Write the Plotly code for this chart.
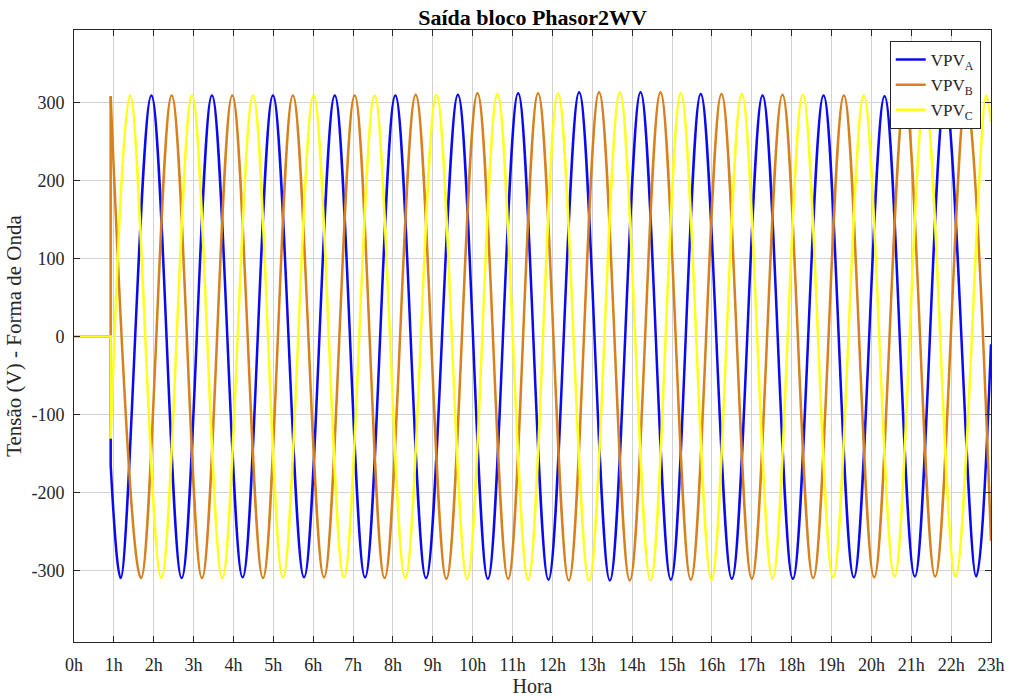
import plotly.graph_objects as go

# ---- data (hours, volts) ----
hour_ticks = list(range(0, 24))
hour_labels = [f"{h}h" for h in hour_ticks]
volt_ticks = [-300, -200, -100, 0, 100, 200, 300]
volt_labels = ["-300", "-200", "-100", "0", "100", "200", "300"]

# flat zero section before the signals start, then the switch-on jump
pre_t = [0.0, 0.92, 0.92]
pre_a = [0, 0, -165]
pre_b = [0, 0, 308]
pre_c = [0, 0, -131]

# series A (blue): start point, successive troughs/peaks, end point
t_a = [0.92, 1.17, 1.94, 2.70, 3.46, 4.23, 4.99, 5.77, 6.54, 7.30, 8.06, 8.83,
       9.63, 10.38, 11.14, 11.90, 12.67, 13.44, 14.21, 14.97, 15.72, 16.50,
       17.27, 18.03, 18.80, 19.56, 20.33, 21.09, 21.85, 22.63, 23.0]
v_a = [-165, -310, 309, -310, 309, -309, 309, -309, 309, -309, 309, -310,
       310, -311, 312, -312, 313, -313, 313, -312, 311, -311,
       309, -311, 309, -309, 308, -308, 308, -308, -10]

# series B (orange)
t_b = [0.92, 1.68, 2.45, 3.21, 3.97, 4.74, 5.49, 6.27, 7.04, 7.79, 8.57, 9.34,
       10.12, 10.89, 11.64, 12.41, 13.17, 13.94, 14.71, 15.47, 16.24, 17.00,
       17.77, 18.54, 19.31, 20.07, 20.84, 21.60, 22.37, 23.0]
v_b = [308, -310, 309, -310, 309, -310, 309, -309, 309, -310, 310, -311,
       312, -311, 312, -313, 313, -313, 313, -312, 311, -311,
       310, -310, 309, -309, 308, -308, 308, -262]

# series C (yellow)
t_c = [0.92, 1.41, 2.19, 2.96, 3.72, 4.49, 5.24, 6.01, 6.77, 7.54, 8.31, 9.09,
       9.86, 10.62, 11.39, 12.14, 12.92, 13.69, 14.46, 15.22, 15.99, 16.75,
       17.52, 18.28, 19.04, 19.81, 20.58, 21.34, 22.11, 22.88, 23.0]
v_c = [-131, 309, -310, 309, -310, 309, -309, 309, -309, 309, -310, 310,
       -311, 311, -312, 312, -313, 313, -313, 312, -312, 311,
       -311, 310, -309, 309, -308, 308, -308, 309, 275]

names = ["VPV<sub>A</sub>", "VPV<sub>B</sub>", "VPV<sub>C</sub>"]
colors = ["#0a0af0", "#d6801e", "#ffff1a"]

FONT = "Liberation Serif, Times New Roman, serif"

fig = go.Figure()
series = [(pre_a, t_a, v_a), (pre_b, t_b, v_b), (pre_c, t_c, v_c)]
for i, (pre, t, v) in enumerate(series):
    fig.add_trace(go.Scatter(x=pre_t, y=pre, mode="lines",
                             line=dict(color=colors[i], width=2.5),
                             legendgroup=str(i), showlegend=False,
                             hoverinfo="skip"))
    fig.add_trace(go.Scatter(x=t, y=v, mode="lines", name=names[i],
                             line=dict(color=colors[i], width=2.5,
                                       shape="spline", smoothing=1),
                             legendgroup=str(i)))

axis_common = dict(
    showline=True, linecolor="#262626", linewidth=1, mirror="ticks",
    ticks="inside", ticklen=6, tickcolor="#262626",
    showgrid=True, gridcolor="#d2d2d2", gridwidth=1,
    zeroline=False,
    tickfont=dict(family=FONT, size=18, color="#262626"),
)

fig.update_xaxes(range=[0, 23], tickvals=hour_ticks, ticktext=hour_labels,
                 title=dict(text="Hora", font=dict(family=FONT, size=20, color="#262626"),
                            standoff=4),
                 ticklabelstandoff=6, **axis_common)
fig.update_yaxes(range=[-392, 393], tickvals=volt_ticks, ticktext=volt_labels,
                 title=dict(text="Tensão (V) - Forma de Onda",
                            font=dict(family=FONT, size=21, color="#262626"),
                            standoff=4),
                 ticklabelstandoff=5, **axis_common)

fig.update_layout(
    width=1010, height=697,
    margin=dict(l=74, r=19, t=30, b=55, autoexpand=False),
    paper_bgcolor="white", plot_bgcolor="white",
    title=dict(text="<b>Saída bloco Phasor2WV</b>", x=0.5, xref="paper",
               y=1 - 17 / 697, yref="container", yanchor="middle", xanchor="center",
               font=dict(family=FONT, size=22, color="black")),
    legend=dict(x=0.9888, xanchor="right", y=0.982, yanchor="top",
                bgcolor="white", bordercolor="#262626", borderwidth=1,
                font=dict(family=FONT, size=17, color="#262626"),
                tracegroupgap=0, itemwidth=30),
    showlegend=True,
)

fig.write_html("out.html")
